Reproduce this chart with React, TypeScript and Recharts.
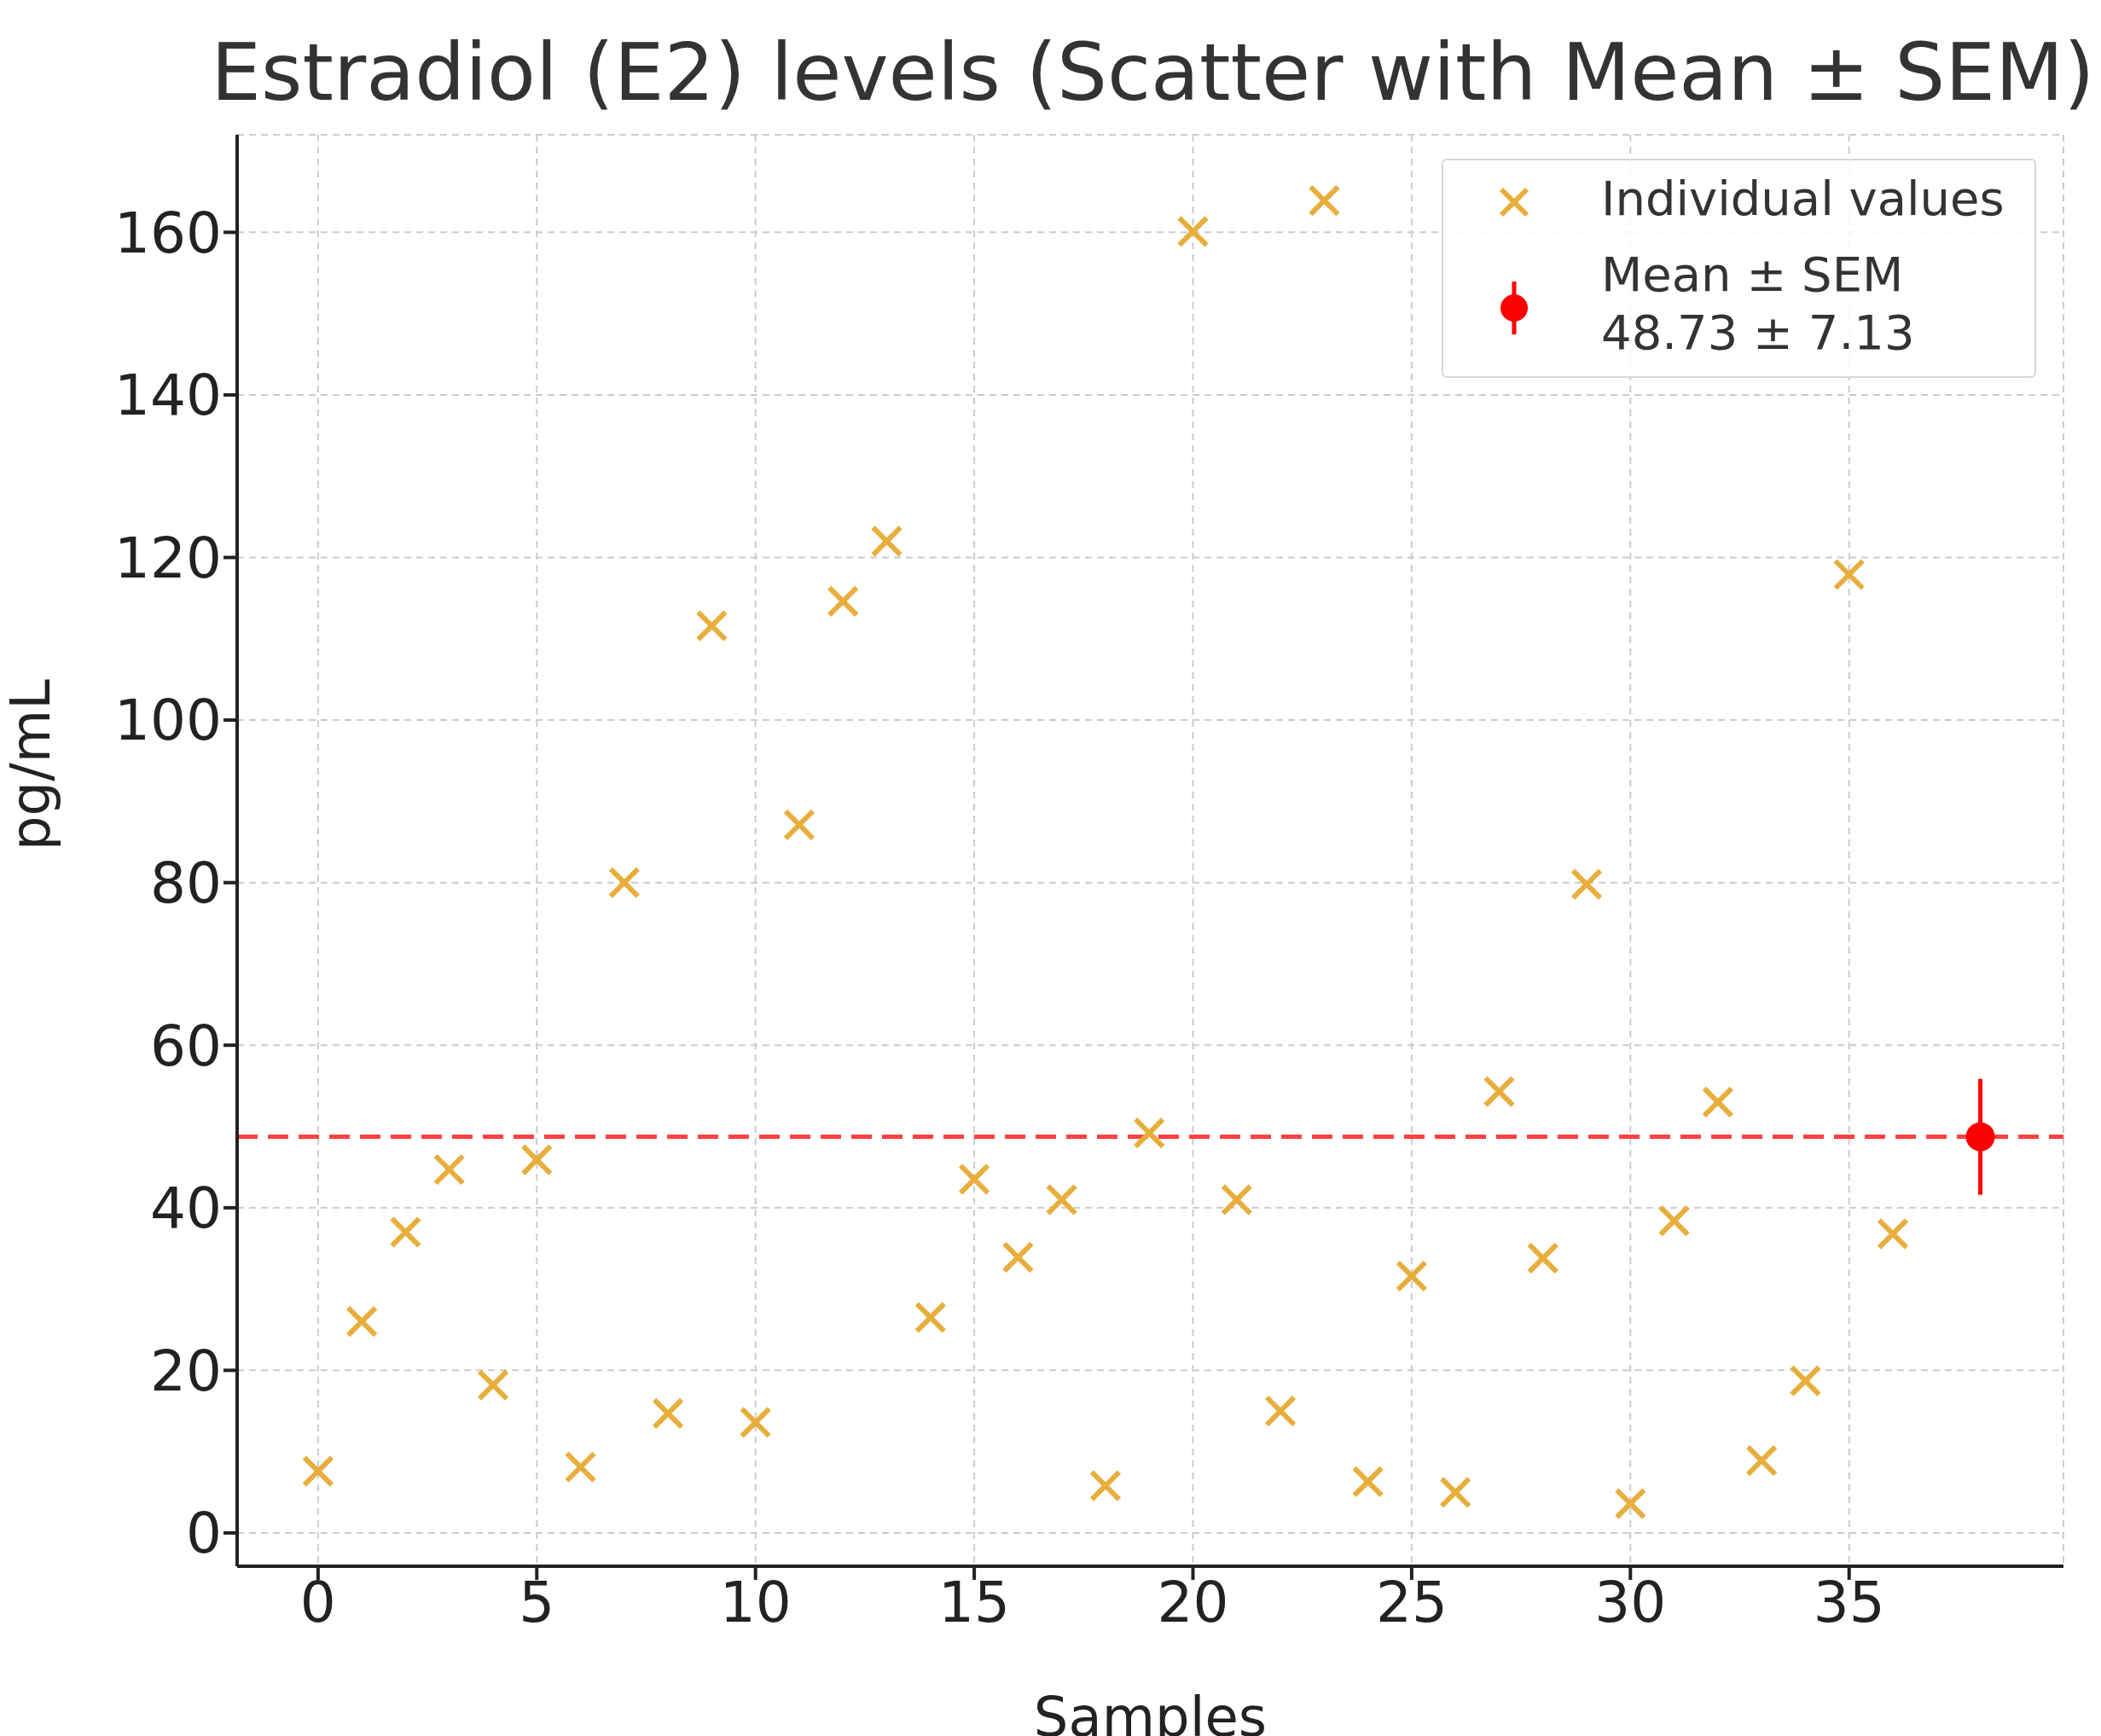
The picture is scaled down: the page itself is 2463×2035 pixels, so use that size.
import {
  ComposedChart, Scatter, XAxis, YAxis, CartesianGrid, ReferenceLine, ErrorBar,
} from "recharts";

const samples = Array.from({ length: 37 }, (_, i) => i);
const values = [
  7.6, 26, 37, 44.7, 18.2, 45.9, 8.1, 80, 14.7, 111.6, 13.6, 87.1, 114.6, 122, 26.5, 43.5, 33.9, 41, 5.8,
  49.2, 160.1, 41, 15, 163.9, 6.3, 31.6, 5, 54.3, 33.8, 79.8, 3.6, 38.4, 53, 8.9, 18.7, 117.9, 36.8,
];
const meanValue = 48.73;
const semValue = 7.13;
const xTicks = [0, 5, 10, 15, 20, 25, 30, 35];
const yTicks = [0, 20, 40, 60, 80, 100, 120, 140, 160];

const points = samples.map((s, i) => ({ x: s, y: values[i] }));
const meanPoint = [{ x: 38, y: meanValue, err: semValue }];

const ORANGE = "#e8ae3c";
const RED = "#ff0000";
const FONT = "DejaVu Sans";

const Cross = (props: any) => {
  const { cx, cy } = props;
  const r = 16;
  return (
    <g stroke={ORANGE} strokeWidth={6}>
      <line x1={cx - r} y1={cy - r} x2={cx + r} y2={cy + r} />
      <line x1={cx - r} y1={cy + r} x2={cx + r} y2={cy - r} />
    </g>
  );
};

const Dot = (props: any) => <circle cx={props.cx} cy={props.cy} r={17} fill={RED} />;

function LegendBox() {
  return (
    <div
      style={{
        position: "absolute", left: 1690, top: 186, width: 697, height: 257,
        border: "2px solid #d8d8d8", borderRadius: 6, background: "rgba(255,255,255,0.85)",
        fontFamily: FONT, fontSize: 56, color: "#333", boxSizing: "border-box",
      }}
    >
      <svg width={120} height={257} style={{ position: "absolute", left: 0, top: 0 }}>
        <g stroke={ORANGE} strokeWidth={6}>
          <line x1={68} y1={34} x2={98} y2={64} />
          <line x1={68} y1={64} x2={98} y2={34} />
        </g>
        <line x1={83} y1={142} x2={83} y2={204} stroke={RED} strokeWidth={5} />
        <circle cx={83} cy={173} r={16} fill={RED} />
      </svg>
      <div style={{ position: "absolute", left: 185, top: 10, lineHeight: "70px" }}>Individual values</div>
      <div style={{ position: "absolute", left: 185, top: 100, lineHeight: "68px" }}>
        Mean ± SEM<br />48.73 ± 7.13
      </div>
    </div>
  );
}

export default function App() {
  return (
    <div style={{ position: "absolute", left: 0, top: 0, width: 2463, height: 2035, background: "#fff" }}>
      <div
        style={{
          position: "absolute", left: 240, width: 2223, top: 30, textAlign: "center",
          fontFamily: FONT, fontSize: 93, color: "#333", lineHeight: "110px", whiteSpace: "nowrap",
        }}
      >
        Estradiol (E2) levels (Scatter with Mean ± SEM)
      </div>
      <ComposedChart width={2463} height={2035} margin={{ top: 158, right: 44, bottom: 0, left: 0 }}>
        <CartesianGrid stroke="#cccccc" strokeDasharray="8 6" strokeWidth={2} />
        <XAxis
          type="number" dataKey="x" domain={[-1.85, 39.9]} ticks={xTicks} height={199}
          allowDataOverflow stroke="#222" strokeWidth={4} tickSize={16}
          tick={{ fontFamily: FONT, fontSize: 66, fill: "#222" }}
          label={{ value: "Samples", position: "insideBottom", offset: 0, fontFamily: FONT, fontSize: 64, fill: "#222" }}
        />
        <YAxis
          type="number" dataKey="y" domain={[-4.1, 172]} ticks={yTicks} width={278}
          allowDataOverflow stroke="#222" strokeWidth={4} tickSize={16}
          tick={{ fontFamily: FONT, fontSize: 66, fill: "#222" }}
          label={{ value: "pg/mL", angle: -90, position: "insideLeft", offset: 35, fontFamily: FONT, fontSize: 64, fill: "#222" }}
        />
        <ReferenceLine y={meanValue} stroke={RED} strokeOpacity={0.75} strokeWidth={5} strokeDasharray="24 12" />
        <Scatter data={points} shape={<Cross />} isAnimationActive={false} />
        <Scatter data={meanPoint} shape={<Dot />} isAnimationActive={false}>
          <ErrorBar dataKey="err" direction="y" stroke={RED} strokeWidth={5} width={0} />
        </Scatter>
      </ComposedChart>
      <LegendBox />
    </div>
  );
}
